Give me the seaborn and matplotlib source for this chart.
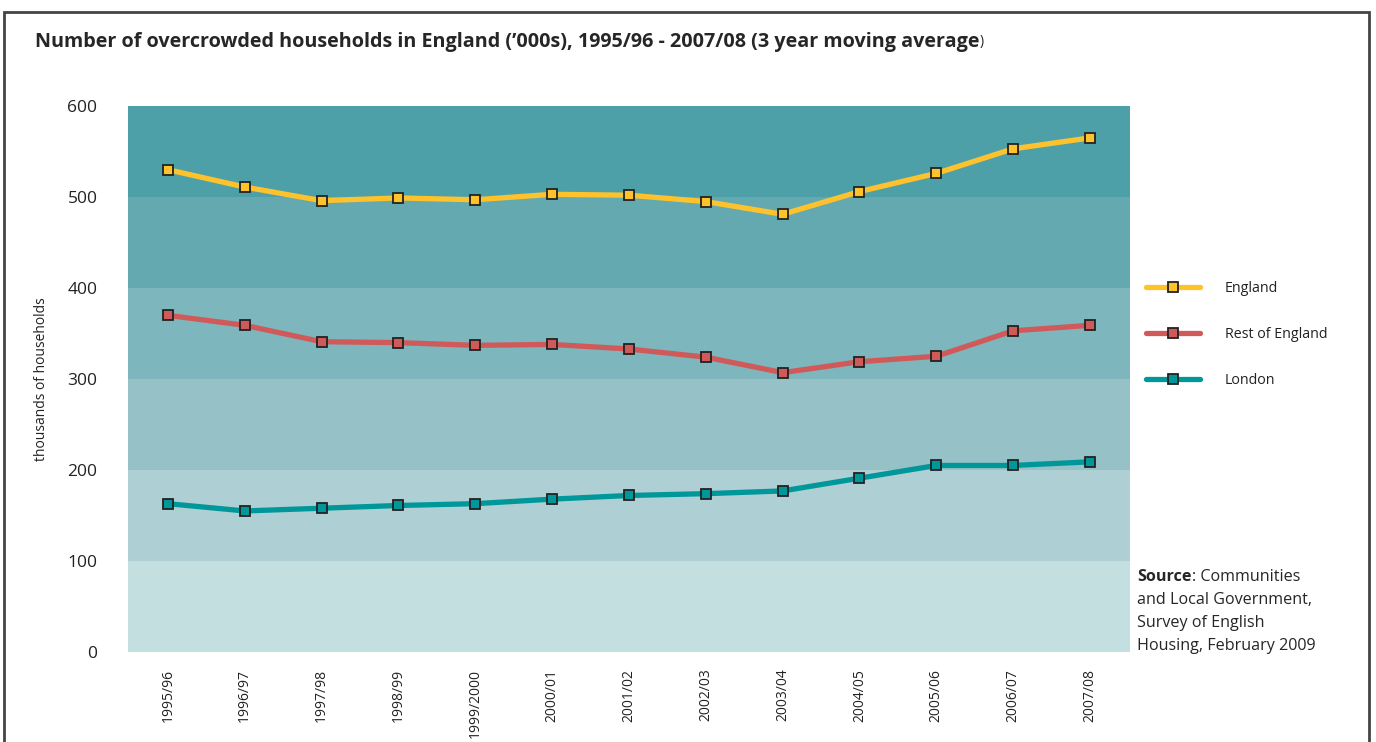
import matplotlib
matplotlib.use("Agg")
import matplotlib.pyplot as plt
from matplotlib.patches import Rectangle
import numpy as np
import pandas as pd
import seaborn as sns

years = ["1995/96", "1996/97", "1997/98", "1998/99", "1999/2000", "2000/01",
         "2001/02", "2002/03", "2003/04", "2004/05", "2005/06", "2006/07", "2007/08"]
england = [530, 511, 496, 499, 497, 503, 502, 495, 481, 506, 526, 553, 565]
rest_of_england = [370, 359, 341, 340, 337, 338, 333, 324, 307, 319, 325, 353, 359]
london = [163, 155, 158, 161, 163, 168, 172, 174, 177, 191, 205, 205, 209]

series_names = ["England", "Rest of England", "London"]
series_colors = ["#FEC22C", "#D05A5A", "#00979B"]
band_colors = ["#C4DFE0", "#AED0D4", "#96C1C6", "#7DB6BC", "#65A9B0", "#4EA0A8"]

df = pd.DataFrame({
    "idx": list(range(len(years))) * 3,
    "value": england + rest_of_england + london,
    "series": np.repeat(series_names, len(years)),
})

sns.set_theme(style="white")
plt.rcParams["font.family"] = ["Open Sans", "DejaVu Sans"]

fig = plt.figure(figsize=(13.76, 7.42), dpi=100)
ax = fig.add_axes([0.093, 0.1213, 0.7282, 0.7358])

# background bands
for i, c in enumerate(band_colors):
    ax.axhspan(i * 100, (i + 1) * 100, color=c, lw=0, zorder=0)

sns.lineplot(
    data=df, x="idx", y="value", hue="series", hue_order=series_names,
    palette=series_colors, linewidth=3.8, marker="s", markersize=7,
    markeredgecolor="#222222", markeredgewidth=1.3, ax=ax, zorder=3,
)

ax.set_xlim(-0.52, 12.52)
ax.set_ylim(0, 600)
ax.set_yticks(range(0, 601, 100))
ax.set_xticks(range(len(years)))
ax.set_xticklabels(years, rotation=90, fontsize=10, color="#222222")
ax.tick_params(axis="y", labelsize=12.5, colors="#222222", length=0, pad=22)
ax.tick_params(axis="x", length=0, pad=12)
ax.set_xlabel("")
ax.set_ylabel("thousands of households", fontsize=10, color="#222222", labelpad=13)
for s in ax.spines.values():
    s.set_visible(False)

leg = ax.legend(
    loc="upper left", bbox_to_anchor=(1.0155, 0.68), frameon=False,
    fontsize=10.3, handlelength=3.8, handletextpad=1.75, labelspacing=2.17,
    borderpad=0, borderaxespad=0,
)
for t in leg.get_texts():
    t.set_color("#222222")

title_y = 1 - 42 / 742
title_txt = fig.text(35 / 1376, title_y,
                     "Number of overcrowded households in England (\u2019000s), 1995/96 - 2007/08 (3 year moving average",
                     fontsize=14.2, fontweight="bold", va="center", ha="left")

# source note
src_lines = ["Communities", "and Local Government,", "Survey of English", "Housing, February 2009"]
x0 = 1137 / 1376
t = fig.text(x0, 1 - 577 / 742, "Source", fontsize=11.6, fontweight="bold", va="center", ha="left")
fig.canvas.draw()
bb = t.get_window_extent()
fig.text(bb.x1 / 1376, 1 - 577 / 742, ": " + src_lines[0], fontsize=11.6, va="center", ha="left")
for k, line in enumerate(src_lines[1:], start=1):
    fig.text(x0, 1 - (577 + 23 * k) / 742, line, fontsize=11.6, va="center", ha="left")

# closing parenthesis of title in regular weight
tb = title_txt.get_window_extent()
fig.text(tb.x1 / 1376, title_y, ")", fontsize=10, va="center", ha="left")

# outer frame
fig.patches.append(Rectangle((4 / 1376, -0.05), 1365 / 1376, 1.05 - 12 / 742,
                             transform=fig.transFigure, fill=False,
                             edgecolor="#444444", linewidth=2))

fig.savefig("out.png", dpi=100)
